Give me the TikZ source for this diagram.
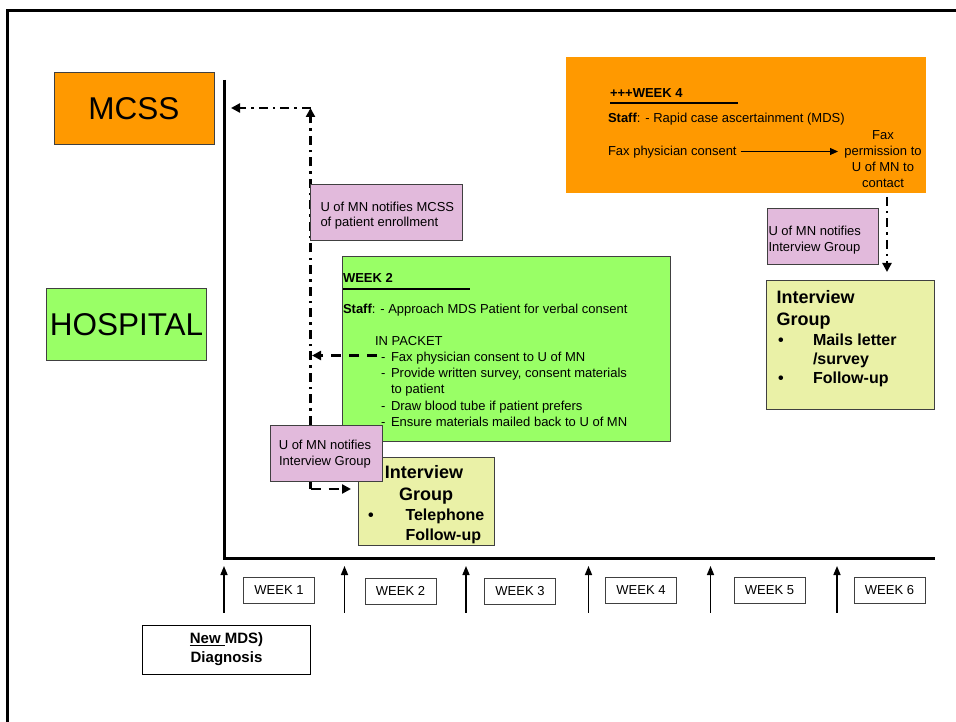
\documentclass[tikz,border=0pt]{standalone}
\usepackage{fontspec}
\setmainfont{Liberation Sans}
\usetikzlibrary{arrows.meta}
\definecolor{orng}{HTML}{FF9900}
\definecolor{grn}{HTML}{99FF66}
\definecolor{pnk}{HTML}{E2BADC}
\definecolor{ylw}{HTML}{EAF1A7}
\definecolor{bgray}{HTML}{404040}
\begin{document}
\begin{tikzpicture}[x=1pt,y=-1pt,
  every node/.style={inner sep=0pt,outer sep=0pt},
  box/.style={draw=bgray,line width=1pt,anchor=north west},
  txt/.style={anchor=base west,font=\fontsize{13}{16}\selectfont},
  big/.style={anchor=base west,font=\fontsize{18}{22}\selectfont\bfseries},
  mid/.style={anchor=base west,font=\fontsize{16}{19}\selectfont\bfseries},
  wk/.style={draw=bgray,line width=1pt,fill=white,minimum width=71pt,minimum height=26pt,font=\fontsize{13}{16}\selectfont},
  tip/.style={-{Triangle[length=9pt,width=9pt]}},
  dd/.style={line width=2.5pt,dash pattern=on 9pt off 5pt on 2.5pt off 5pt},
  ds/.style={line width=2.5pt,dash pattern=on 10pt off 8pt},
  tl/.style={line width=1.5pt,-{Triangle[length=9pt,width=7pt]}}]
\useasboundingbox (0,0) rectangle (956,722);
% frame
\coordinate (fb) at (7.5,722);
\coordinate (fc) at (7.5,10.5);
\coordinate (fr) at (956,10.5);
\draw[line width=3pt] (fb) -- (fc) -- (fr);
% axes
\coordinate (ax0) at (224,80);
\coordinate (axc) at (224,558);
\coordinate (ax1) at (935,558);
\draw[line width=3pt] (ax0) -- (axc) -- (ax1);
% left labels
\node[box,fill=orng,minimum width=160pt,minimum height=72pt,font=\fontsize{31.5}{34}\selectfont] (mcss) at (54,73) {MCSS};
\node[box,fill=grn,minimum width=160pt,minimum height=72pt,font=\fontsize{31.5}{34}\selectfont] (hosp) at (46.5,288.5) {HOSPITAL};
% week 2 box
\node[box,fill=grn,minimum width=328pt,minimum height=184pt] (wk2box) at (342,257) {};
\node[txt,font=\fontsize{13}{16}\selectfont\bfseries] (w2t) at (343,282) {WEEK 2};
\coordinate (u2a) at (343,289);
\coordinate (u2b) at (470,289);
\draw[line width=2pt] (u2a) -- (u2b);
\node[txt] (w2s) at (343,313) {\textbf{Staff}: - Approach MDS Patient for verbal consent};
\node[txt] (w2p) at (375,345) {IN PACKET};
\node[txt] (d1) at (381,361.5) {-};
\node[txt] (i1) at (391,361.5) {Fax physician consent to U of MN};
\node[txt] (d2) at (381,377) {-};
\node[txt] (i2) at (391,377) {Provide written survey, consent materials};
\node[txt] (i2b) at (391,393) {to patient};
\node[txt] (d3) at (381,410) {-};
\node[txt] (i3) at (391,410) {Draw blood tube if patient prefers};
\node[txt] (d4) at (381,426) {-};
\node[txt] (i4) at (391,426) {Ensure materials mailed back to U of MN};
% week 4 box
\node[anchor=north west,fill=orng,minimum width=360pt,minimum height=136pt] (wk4box) at (566,57) {};
\node[txt,font=\fontsize{13}{16}\selectfont\bfseries] (w4t) at (610,97.5) {+++WEEK 4};
\coordinate (u4a) at (610,103.5);
\coordinate (u4b) at (738,103.5);
\draw[line width=2pt] (u4a) -- (u4b);
\node[txt] (w4s) at (608,122.5) {\textbf{Staff}: - Rapid case ascertainment (MDS)};
\node[txt] (fpc) at (608,155.5) {Fax physician consent};
\node[align=center,font=\fontsize{13}{16}\selectfont] (fperm) at (883,159) {Fax\\permission to\\U of MN to\\contact};
\coordinate (fa0) at ([xshift=4pt,yshift=4pt]fpc.base east);
\coordinate (fa1) at (838,151.5);
\draw[line width=1pt,-{Triangle[length=8pt,width=7pt]}] (fa0) -- (fa1);
% dash-dot connectors
\coordinate (vtop) at (310.5,108);
\coordinate (vbot) at (310.5,489);
\coordinate (mcarr) at (231,108);
\coordinate (dst) at (377,355.5);
\coordinate (dend) at (312,355.5);
\coordinate (igarr) at (351,489);
\draw[dd,tip] (vbot) -- (vtop);
\draw[dd,tip] (vtop) -- (mcarr);
\draw[ds,tip] (dst) -- (dend);
\draw[ds,tip] (vbot) -- (igarr);
% pink box 1
\node[box,fill=pnk,minimum width=152pt,minimum height=56pt] (p1) at (310,185) {};
\node[txt] (p1a) at (320.5,211.5) {U of MN notifies MCSS};
\node[txt] (p1b) at (320.5,226.5) {of patient enrollment};
% left interview group
\node[box,fill=ylw,minimum width=136pt,minimum height=88pt] (ig1) at (358.5,457) {};
\node[big,anchor=base] (ig1a) at (424,478) {Interview};
\node[big,anchor=base] (ig1b) at (426,500) {Group};
\node[mid] (ig1c) at (368,520) {\textbullet};
\node[mid] (ig1d) at (405.5,520) {Telephone};
\node[mid] (ig1e) at (405.5,540.5) {Follow-up};
\node[box,fill=pnk,minimum width=112pt,minimum height=56pt] (p2) at (270,425) {};
\node[align=center,font=\fontsize{13}{16}\selectfont] (p2t) at (325,454) {U of MN notifies\\Interview Group};
% right side
\coordinate (rtop) at (887,197);
\coordinate (rbot) at (887,272);
\draw[dd,tip] (rtop) -- (rbot);
\node[box,fill=pnk,minimum width=111pt,minimum height=56pt] (p3) at (767,209) {};
\node[txt] (p3a) at (768.5,235.5) {U of MN notifies};
\node[txt] (p3b) at (768.5,251.5) {Interview Group};
\node[box,fill=ylw,minimum width=168pt,minimum height=129pt] (ig2) at (766,280.5) {};
\node[big] (ig2a) at (776.5,303.5) {Interview};
\node[big] (ig2b) at (776.5,325) {Group};
\node[mid] (ig2c) at (778,345) {\textbullet};
\node[mid] (ig2d) at (813,345) {Mails letter};
\node[mid] (ig2e) at (813,364) {/survey};
\node[mid] (ig2f) at (778,383.5) {\textbullet};
\node[mid] (ig2g) at (813,383.5) {Follow-up};
% timeline arrows
\foreach \i/\x in {1/224,2/344.5,3/466,4/588.5,5/710.5,6/837}{
  \coordinate (tb\i) at (\x,612.5);
  \coordinate (tt\i) at (\x,566);
  \draw[tl] (tb\i) -- (tt\i);
}
\node[wk] (w1) at (279,590) {WEEK 1};
\node[wk] (w2) at (400.5,591) {WEEK 2};
\node[wk] (w3) at (520,591) {WEEK 3};
\node[wk] (w4) at (641,590) {WEEK 4};
\node[wk] (w5) at (769.5,590) {WEEK 5};
\node[wk] (w6) at (889.5,590) {WEEK 6};
\node[draw=black,line width=1pt,anchor=north west,fill=white,minimum width=168pt,minimum height=49pt,align=center,font=\fontsize{15}{19}\selectfont\bfseries] (newmds) at (142.5,625) {\underline{New }MDS)\\Diagnosis};
\end{tikzpicture}
\end{document}
